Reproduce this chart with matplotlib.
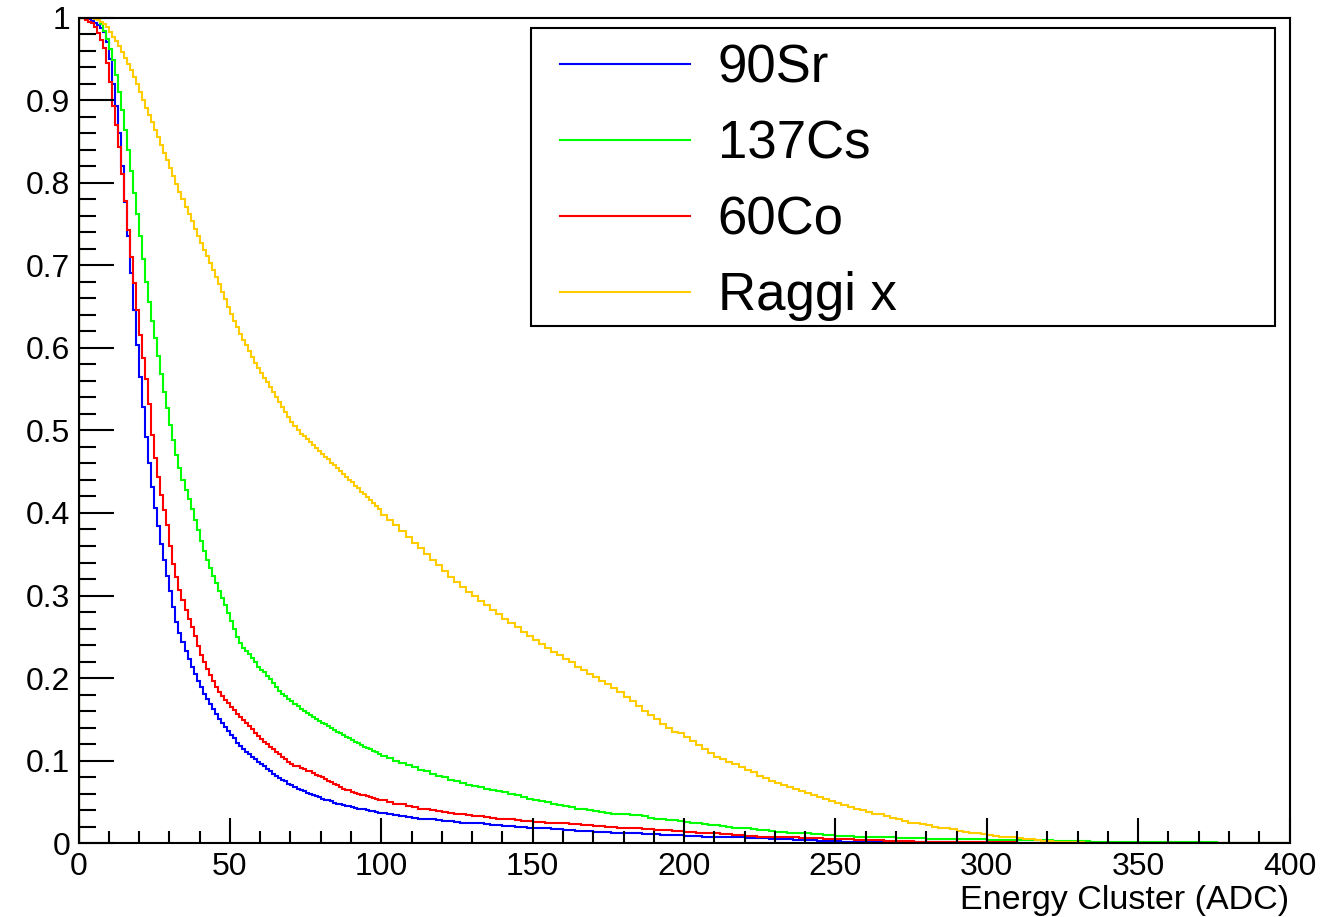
import numpy as np
import matplotlib.pyplot as plt
from matplotlib.patches import Rectangle
from matplotlib.ticker import MultipleLocator, FormatStrFormatter

plt.rcParams['font.family'] = ['Liberation Sans', 'DejaVu Sans']

# integral spectra: fraction of clusters above threshold.
# 1 ADC bins up to 100, then rebinned to 2 ADC up to 400
fine_width = 1
coarse_width = 2
x_split = 100
x_max = 400
labels = ['90Sr', '137Cs', '60Co', 'Raggi x']
colors = ['#0000ff', '#00ff00', '#ff0000', '#ffcc00']

sr90 = [
    # 0 - 100, 1 ADC bins
    1.000, 1.000, 0.999, 0.998, 0.996, 0.993, 0.991, 0.987, 0.982, 0.970,
    0.950, 0.920, 0.893, 0.860, 0.820, 0.777, 0.735, 0.690, 0.646, 0.604,
    0.565, 0.528, 0.492, 0.460, 0.432, 0.406, 0.384, 0.362, 0.343, 0.324,
    0.305, 0.286, 0.268, 0.255, 0.244, 0.233, 0.223, 0.214, 0.205, 0.197,
    0.189, 0.181, 0.175, 0.169, 0.163, 0.157, 0.151, 0.146, 0.141, 0.136,
    0.131, 0.127, 0.122, 0.118, 0.114, 0.111, 0.108, 0.105, 0.102, 0.099,
    0.096, 0.093, 0.090, 0.087, 0.084, 0.081, 0.079, 0.077, 0.075, 0.072,
    0.070, 0.068, 0.066, 0.064, 0.063, 0.061, 0.060, 0.058, 0.057, 0.056,
    0.054, 0.053, 0.052, 0.051, 0.049, 0.048, 0.047, 0.046, 0.045, 0.045,
    0.044, 0.043, 0.042, 0.041, 0.041, 0.040, 0.039, 0.039, 0.038, 0.037,
    # 100 - 400, 2 ADC bins
    0.037, 0.035, 0.034, 0.033, 0.032, 0.031, 0.030, 0.030, 0.029, 0.028,
    0.027, 0.027, 0.026, 0.025, 0.025, 0.024, 0.024, 0.023, 0.022, 0.022,
    0.021, 0.021, 0.020, 0.020, 0.019, 0.019, 0.018, 0.018, 0.017, 0.017,
    0.016, 0.016, 0.015, 0.015, 0.015, 0.014, 0.014, 0.014, 0.013, 0.013,
    0.013, 0.012, 0.012, 0.011, 0.011, 0.011, 0.010, 0.010, 0.010, 0.010,
    0.009, 0.009, 0.009, 0.008, 0.008, 0.008, 0.008, 0.007, 0.007, 0.007,
    0.006, 0.006, 0.006, 0.006, 0.005, 0.005, 0.005, 0.005, 0.004, 0.004,
    0.004, 0.004, 0.003, 0.003, 0.003, 0.003, 0.002, 0.002, 0.002, 0.002,
    0.002, 0.002, 0.002, 0.001, 0.001, 0.001, 0.001, 0.001, 0.001, 0.001,
    0.001, 0.001, 0.001, 0.001, 0.001, 0.0005, 0.0005, 0.0005, 0.0005, 0.0005,
    0.0003, 0.0003, 0.0003, 0.0003, 0.0003, 0.0002, 0.0002, 0.0002, 0.0002, 0.0002,
    0, 0, 0, 0, 0, 0, 0, 0, 0, 0,
    0, 0, 0, 0, 0, 0, 0, 0, 0, 0,
    0, 0, 0, 0, 0, 0, 0, 0, 0, 0,
    0, 0, 0, 0, 0, 0, 0, 0, 0, 0,
]

cs137 = [
    # 0 - 100, 1 ADC bins
    1.000, 1.000, 1.000, 1.000, 0.999, 0.998, 0.997, 0.992, 0.984, 0.974,
    0.962, 0.948, 0.930, 0.910, 0.888, 0.864, 0.840, 0.814, 0.788, 0.762,
    0.735, 0.707, 0.680, 0.655, 0.633, 0.612, 0.590, 0.568, 0.547, 0.527,
    0.507, 0.488, 0.470, 0.454, 0.440, 0.428, 0.417, 0.405, 0.392, 0.379,
    0.366, 0.354, 0.343, 0.333, 0.324, 0.315, 0.306, 0.297, 0.288, 0.279,
    0.269, 0.259, 0.250, 0.243, 0.237, 0.233, 0.229, 0.224, 0.219, 0.214,
    0.210, 0.207, 0.203, 0.199, 0.194, 0.189, 0.185, 0.181, 0.178, 0.175,
    0.172, 0.169, 0.166, 0.163, 0.160, 0.158, 0.155, 0.153, 0.150, 0.148,
    0.146, 0.144, 0.142, 0.139, 0.137, 0.135, 0.133, 0.131, 0.129, 0.127,
    0.125, 0.123, 0.121, 0.119, 0.117, 0.115, 0.114, 0.112, 0.110, 0.108,
    # 100 - 400, 2 ADC bins
    0.106, 0.103, 0.100, 0.097, 0.095, 0.092, 0.089, 0.087, 0.084, 0.082,
    0.080, 0.077, 0.075, 0.073, 0.071, 0.069, 0.068, 0.066, 0.065, 0.063,
    0.062, 0.060, 0.058, 0.056, 0.054, 0.053, 0.051, 0.050, 0.048, 0.046,
    0.045, 0.044, 0.042, 0.041, 0.040, 0.039, 0.038, 0.037, 0.036, 0.036,
    0.035, 0.034, 0.034, 0.033, 0.031, 0.030, 0.029, 0.028, 0.028, 0.027,
    0.026, 0.025, 0.024, 0.023, 0.022, 0.022, 0.021, 0.020, 0.019, 0.018,
    0.018, 0.017, 0.016, 0.016, 0.015, 0.014, 0.014, 0.013, 0.013, 0.012,
    0.012, 0.011, 0.011, 0.010, 0.010, 0.009, 0.009, 0.009, 0.008, 0.008,
    0.008, 0.007, 0.007, 0.007, 0.007, 0.006, 0.006, 0.006, 0.006, 0.006,
    0.005, 0.005, 0.005, 0.005, 0.005, 0.005, 0.005, 0.005, 0.005, 0.005,
    0.004, 0.004, 0.004, 0.004, 0.004, 0.004, 0.004, 0.004, 0.004, 0.004,
    0.004, 0.003, 0.003, 0.003, 0.003, 0.003, 0.003, 0.002, 0.002, 0.002,
    0.002, 0.002, 0.002, 0.002, 0.002, 0.002, 0.002, 0.001, 0.001, 0.001,
    0.001, 0.001, 0.001, 0.001, 0.001, 0.001, 0.001, 0.001, 0, 0,
    0, 0, 0, 0, 0, 0, 0, 0, 0, 0,
]

co60 = [
    # 0 - 100, 1 ADC bins
    1.000, 0.999, 0.997, 0.995, 0.993, 0.988, 0.981, 0.973, 0.963, 0.945,
    0.922, 0.893, 0.870, 0.843, 0.810, 0.778, 0.743, 0.710, 0.679, 0.646,
    0.615, 0.588, 0.562, 0.532, 0.494, 0.466, 0.443, 0.422, 0.404, 0.385,
    0.360, 0.338, 0.322, 0.307, 0.295, 0.283, 0.272, 0.262, 0.251, 0.239,
    0.228, 0.219, 0.211, 0.204, 0.196, 0.189, 0.183, 0.178, 0.174, 0.170,
    0.165, 0.161, 0.157, 0.153, 0.149, 0.146, 0.142, 0.138, 0.134, 0.130,
    0.126, 0.123, 0.120, 0.117, 0.114, 0.111, 0.108, 0.105, 0.102, 0.099,
    0.096, 0.094, 0.093, 0.091, 0.090, 0.088, 0.087, 0.085, 0.083, 0.081,
    0.080, 0.078, 0.076, 0.074, 0.072, 0.070, 0.068, 0.066, 0.065, 0.064,
    0.062, 0.061, 0.060, 0.059, 0.058, 0.057, 0.056, 0.055, 0.054, 0.053,
    # 100 - 400, 2 ADC bins
    0.052, 0.050, 0.048, 0.047, 0.045, 0.044, 0.042, 0.041, 0.040, 0.039,
    0.038, 0.037, 0.036, 0.035, 0.034, 0.033, 0.033, 0.032, 0.031, 0.030,
    0.030, 0.029, 0.028, 0.027, 0.027, 0.026, 0.026, 0.025, 0.025, 0.024,
    0.024, 0.023, 0.023, 0.022, 0.022, 0.021, 0.021, 0.020, 0.020, 0.019,
    0.019, 0.018, 0.018, 0.017, 0.017, 0.016, 0.016, 0.016, 0.015, 0.015,
    0.014, 0.014, 0.013, 0.013, 0.012, 0.012, 0.011, 0.011, 0.010, 0.010,
    0.009, 0.009, 0.008, 0.008, 0.008, 0.007, 0.007, 0.007, 0.007, 0.006,
    0.006, 0.006, 0.006, 0.005, 0.005, 0.005, 0.005, 0.005, 0.004, 0.004,
    0.004, 0.004, 0.004, 0.003, 0.003, 0.003, 0.003, 0.003, 0.002, 0.002,
    0.002, 0.002, 0.002, 0.002, 0.002, 0.001, 0.001, 0.001, 0.001, 0.001,
    0.001, 0.001, 0.001, 0.001, 0.001, 0.0005, 0.0005, 0.0005, 0.0005, 0.0005,
    0.0003, 0.0003, 0.0003, 0.0003, 0.0003, 0.0002, 0.0002, 0.0002, 0.0002, 0.0002,
    0, 0, 0, 0, 0, 0, 0, 0, 0, 0,
    0, 0, 0, 0, 0, 0, 0, 0, 0, 0,
    0, 0, 0, 0, 0, 0, 0, 0, 0, 0,
]

raggi_x = [
    # 0 - 100, 1 ADC bins
    1.000, 1.000, 1.000, 0.999, 0.999, 0.998, 0.997, 0.995, 0.992, 0.988,
    0.983, 0.977, 0.971, 0.965, 0.958, 0.951, 0.944, 0.936, 0.928, 0.919,
    0.910, 0.900, 0.891, 0.882, 0.873, 0.864, 0.855, 0.846, 0.836, 0.827,
    0.818, 0.808, 0.798, 0.789, 0.780, 0.771, 0.762, 0.753, 0.744, 0.735,
    0.727, 0.719, 0.711, 0.703, 0.694, 0.686, 0.677, 0.668, 0.659, 0.650,
    0.641, 0.633, 0.625, 0.617, 0.610, 0.603, 0.596, 0.589, 0.582, 0.576,
    0.570, 0.564, 0.558, 0.552, 0.546, 0.540, 0.534, 0.528, 0.522, 0.516,
    0.510, 0.505, 0.500, 0.496, 0.493, 0.489, 0.486, 0.482, 0.479, 0.475,
    0.472, 0.468, 0.465, 0.461, 0.458, 0.454, 0.451, 0.447, 0.444, 0.440,
    0.437, 0.433, 0.430, 0.426, 0.423, 0.419, 0.416, 0.412, 0.409, 0.405,
    # 100 - 400, 2 ADC bins
    0.398, 0.391, 0.385, 0.378, 0.371, 0.364, 0.357, 0.350, 0.343, 0.337,
    0.330, 0.323, 0.317, 0.310, 0.304, 0.299, 0.293, 0.288, 0.283, 0.278,
    0.272, 0.267, 0.262, 0.256, 0.251, 0.246, 0.241, 0.237, 0.232, 0.228,
    0.223, 0.219, 0.214, 0.210, 0.205, 0.201, 0.197, 0.193, 0.188, 0.183,
    0.177, 0.172, 0.166, 0.160, 0.155, 0.150, 0.144, 0.139, 0.135, 0.133,
    0.129, 0.124, 0.119, 0.114, 0.109, 0.105, 0.102, 0.099, 0.096, 0.092,
    0.089, 0.086, 0.082, 0.079, 0.076, 0.073, 0.071, 0.068, 0.066, 0.063,
    0.061, 0.059, 0.056, 0.054, 0.051, 0.049, 0.046, 0.044, 0.042, 0.040,
    0.038, 0.036, 0.035, 0.033, 0.031, 0.029, 0.027, 0.025, 0.024, 0.023,
    0.022, 0.020, 0.019, 0.018, 0.017, 0.015, 0.014, 0.013, 0.012, 0.011,
    0.010, 0.009, 0.008, 0.007, 0.007, 0.006, 0.005, 0.005, 0.004, 0.003,
    0.003, 0.002, 0.002, 0.001, 0.001, 0.001, 0.0005, 0.0003, 0.0002, 0.0001,
    0, 0, 0, 0, 0, 0, 0, 0, 0, 0,
    0, 0, 0, 0, 0, 0, 0, 0, 0, 0,
    0, 0, 0, 0, 0, 0, 0, 0, 0, 0,
]

edges = np.concatenate([np.arange(0, x_split, fine_width),
                        np.arange(x_split, x_max + coarse_width, coarse_width)])

fig = plt.figure(figsize=(13.38, 9.17), dpi=100)
ax = fig.add_axes([0.0587, 0.0804, 0.9051, 0.9005])

for vals, lab, col in zip([sr90, cs137, co60, raggi_x], labels, colors):
    ax.stairs(vals, edges, baseline=0, color=col, lw=1.5, label=lab)

ax.set_xlim(0, x_max)
ax.set_ylim(0, 1)
ax.xaxis.set_major_locator(MultipleLocator(50))
ax.xaxis.set_minor_locator(MultipleLocator(10))
ax.yaxis.set_major_locator(MultipleLocator(0.1))
ax.yaxis.set_minor_locator(MultipleLocator(0.02))
ax.yaxis.set_major_formatter(FormatStrFormatter('%g'))

ax.tick_params(which='both', direction='in', top=False, right=False,
               width=1.5, labelsize=23, colors='black')
ax.tick_params(axis='x', which='major', length=18, pad=6)
ax.tick_params(axis='x', which='minor', length=9)
ax.tick_params(axis='y', which='major', length=25, pad=6)
ax.tick_params(axis='y', which='minor', length=12)
for sp in ax.spines.values():
    sp.set_linewidth(1.5)

# legend box
box = Rectangle((0.3737, 0.6264), 0.6143, 0.3609, transform=ax.transAxes,
                facecolor='white', edgecolor='black', lw=1.5, zorder=4)
ax.add_patch(box)
leg = ax.legend(loc='upper left', bbox_to_anchor=(0.3976, 0.968),
                frameon=False, borderpad=0, borderaxespad=0, fontsize=38,
                handlelength=2.46, handletextpad=0.53, labelspacing=0.487)
leg.set_zorder(5)
for line in leg.get_lines():
    line.set_linewidth(1.5)

fig.text(0.9638, 0.001, 'Energy Cluster (ADC)', ha='right', va='bottom',
         fontsize=24.5)

fig.savefig('out.png', dpi=100)
